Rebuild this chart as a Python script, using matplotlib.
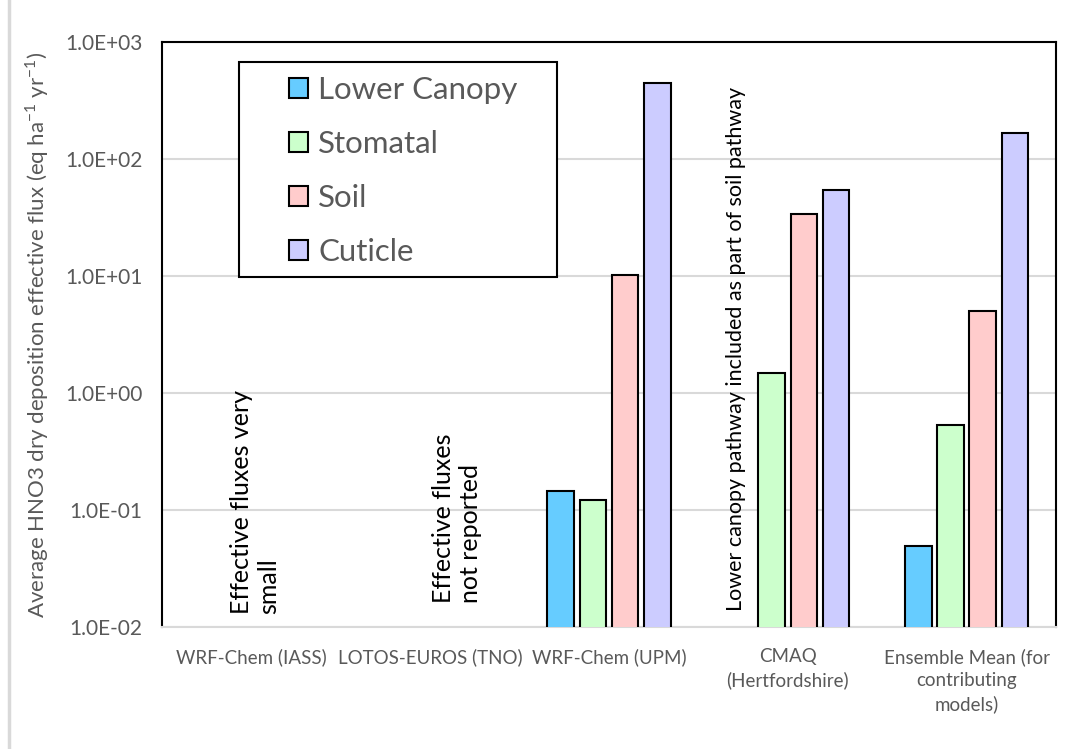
import matplotlib.pyplot as plt
import numpy as np
from matplotlib.ticker import FixedLocator, FuncFormatter
from matplotlib.lines import Line2D
from matplotlib.patches import Rectangle

plt.rcParams['font.family'] = ['Lato', 'DejaVu Sans']
plt.rcParams['mathtext.fontset'] = 'custom'
plt.rcParams['mathtext.rm'] = 'Lato'

# model runs (x categories)
models = ['WRF-Chem (IASS)', 'LOTOS-EUROS (TNO)', 'WRF-Chem (UPM)',
          'CMAQ\n(Hertfordshire)', 'Ensemble Mean (for\ncontributing\nmodels)']

# effective HNO3 dry deposition flux per pathway, eq ha-1 yr-1 (nan = not available)
nan = np.nan
lower_canopy = [nan, nan, 0.145, nan, 0.049]
stomatal = [nan, nan, 0.121, 1.48, 0.53]
soil = [nan, nan, 10.1, 33.7, 5.03]
cuticle = [nan, nan, 443.0, 54.2, 166.0]

pathways = ['Lower Canopy', 'Stomatal', 'Soil', 'Cuticle']
colors = ['#66CCFF', '#CCFFCC', '#FFCCCC', '#CCCCFF']
series = [lower_canopy, stomatal, soil, cuticle]

yticks = [1e-2, 1e-1, 1e0, 1e1, 1e2, 1e3]

grey = '#595959'
W, H = 1067, 749

fig = plt.figure(figsize=(W/100, H/100), dpi=100)
ax = fig.add_axes([162/W, 1-627/H, 894/W, 585/H])

x = np.arange(len(models))
pitch = 0.18
bw = 0.148
for i, (vals, c) in enumerate(zip(series, colors)):
    ax.bar(x + (i-1.5)*pitch, vals, bw, color=c, edgecolor='black',
           linewidth=1.5, zorder=3)

ax.set_yscale('log')
ax.set_ylim(yticks[0], yticks[-1])
ax.set_xlim(-0.5, len(models)-0.5)
ax.yaxis.set_major_locator(FixedLocator(yticks))
ax.yaxis.set_minor_locator(FixedLocator([]))
ax.yaxis.set_major_formatter(FuncFormatter(lambda v, p: '%.1E' % v))
ax.grid(axis='y', color='#d9d9d9', linewidth=1.5, zorder=0)
ax.tick_params(axis='y', length=0, pad=14, labelsize=15, labelcolor=grey)
ax.set_xticks(x)
ax.set_xticklabels(models, fontsize=13.5, color=grey, linespacing=1.45)
ax.tick_params(axis='x', length=0, pad=15)

for s in ['left', 'top', 'right']:
    ax.spines[s].set_color('black')
    ax.spines[s].set_linewidth(1.5)
ax.spines['bottom'].set_color('#d9d9d9')
ax.spines['bottom'].set_linewidth(1.5)

ax.set_ylabel('Average HNO3 dry deposition effective flux (eq ha$^{-1}$ yr$^{-1}$)',
              fontsize=16, color=grey, labelpad=10)

# notes for models without pathway values
ax.text(0.02, 0.013, 'Effective fluxes very\nsmall', rotation=90, ha='center',
        va='bottom', fontsize=18, multialignment='left', linespacing=1.2, zorder=4)
ax.text(1.15, 0.016, 'Effective fluxes\nnot reported', rotation=90, ha='center',
        va='bottom', fontsize=18, multialignment='left', linespacing=1.2, zorder=4)
ax.text(2.71, 0.0138, 'Lower canopy pathway included as part of soil pathway',
        rotation=90, ha='center', va='bottom', fontsize=15.5, zorder=4)

# legend: white box with black border, entries on top
ax.add_patch(Rectangle((239/W, 1-277/H), 318/W, 215/H, transform=fig.transFigure,
                       facecolor='white', edgecolor='black', linewidth=1.5,
                       zorder=4.5, clip_on=False))
handles = [Rectangle((0, 0), 1, 1, facecolor=c, edgecolor='black', linewidth=1.5)
           for c in colors]
leg = ax.legend(handles, pathways, loc='upper left',
                bbox_to_anchor=(289/W, 1-76/H), bbox_transform=fig.transFigure,
                fontsize=22.5, frameon=False,
                handlelength=0.61, handleheight=0.61, handletextpad=0.32,
                labelspacing=0.83, borderpad=0, borderaxespad=0)
leg.set_zorder(5)
for t in leg.get_texts():
    t.set_color(grey)

# chart area edge on the left
fig.add_artist(Line2D([9/W, 9/W], [0, 1], color='#d9d9d9', linewidth=2.5))

fig.savefig('out.png', dpi=100)
